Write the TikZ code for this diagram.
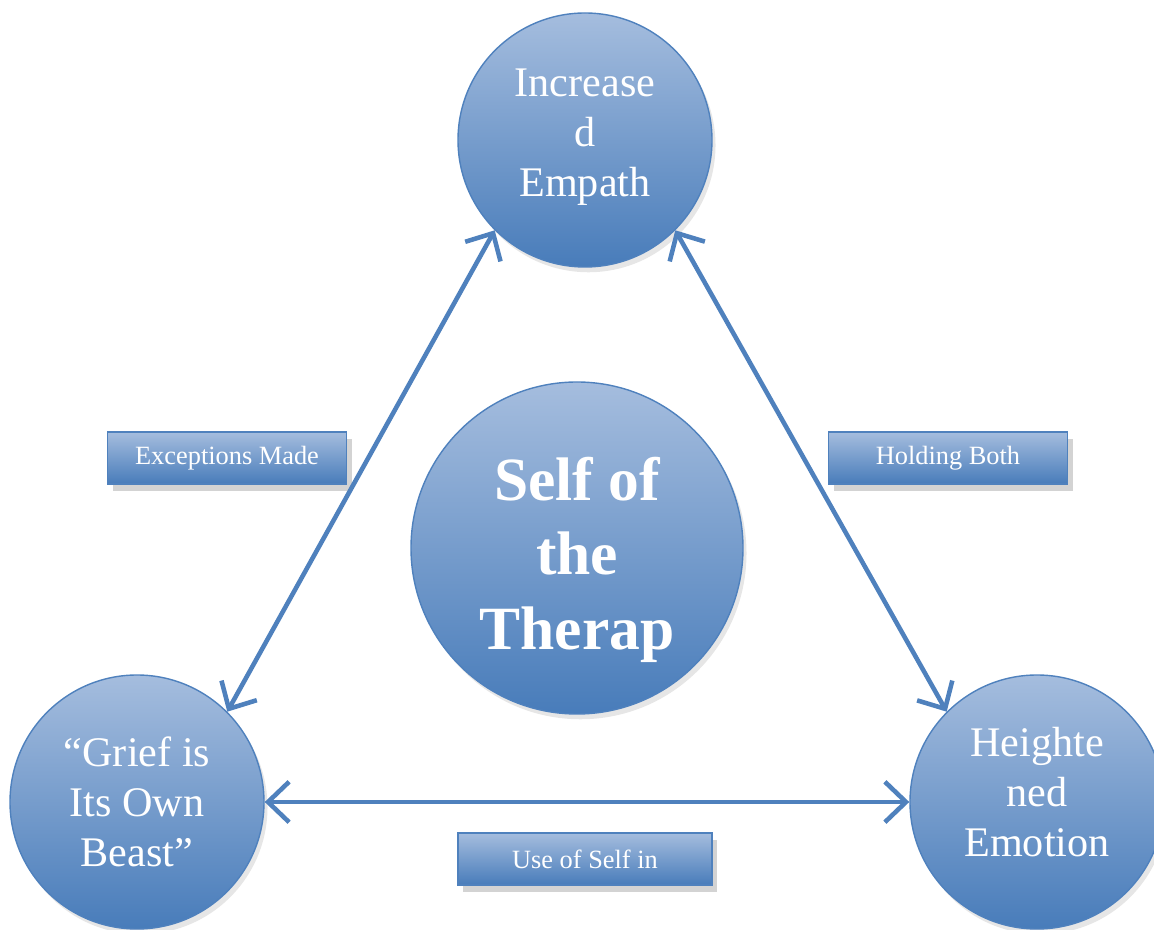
\documentclass[tikz,border=0pt]{standalone}
\usepackage{fontspec}
\setmainfont{Liberation Serif}
\usepackage{tikz}
\usetikzlibrary{arrows.meta,shadows}

\definecolor{ringblue}{RGB}{79,129,189}
\definecolor{toplight}{RGB}{165,189,222}
\definecolor{botdark}{RGB}{72,124,186}

\begin{document}
\begin{tikzpicture}[
  bubble/.style={circle, draw=ringblue, line width=0.8pt, top color=toplight, bottom color=botdark, text=white, align=center, minimum size=5.08cm, inner sep=0pt, font=\fontsize{24}{28.5}\selectfont, drop shadow={opacity=0.2, shadow xshift=2pt, shadow yshift=-3pt}},
  tag/.style={draw=ringblue, line width=0.8pt, top color=toplight, bottom color=botdark, text=white, minimum width=4.78cm, minimum height=1.04cm, inner sep=0pt, font=\fontsize{15}{18}\selectfont, drop shadow={opacity=0.35, shadow xshift=3pt, shadow yshift=-4pt}},
  flow/.style={{Straight Barb[length=12pt,width=23pt]}-{Straight Barb[length=12pt,width=23pt]}, line width=2.6pt, draw=ringblue},
]
\useasboundingbox (0,0) rectangle (23.08,-18.6);
\node[bubble] (emp) at (11.70,-2.80) {Increase\\d\\Empath\rule[-8pt]{0pt}{0pt}};
\node[bubble, minimum size=6.64cm, font=\bfseries\fontsize{35}{42.5}\selectfont] (self) at (11.54,-10.96) {\rule{0pt}{38pt}Self of\\the\\Therap};
\node[bubble] (grief) at (2.74,-16.04) {``Grief is\\Its Own\\Beast''};
\node[bubble] (emo) at (20.74,-16.04) {Heighte\\ned\\Emotion\rule[-12pt]{0pt}{0pt}};
\node[tag] (exc) at (4.54,-9.16) {Exceptions Made};
\node[tag] (hold) at (18.96,-9.16) {Holding Both};
\node[tag, minimum width=5.08cm] (use) at (11.70,-17.18) {Use of Self in};
\draw[flow] (emp.225) -- (grief.45);
\draw[flow] (emp.-45) -- (emo.135);
\draw[flow] (grief.east) -- (emo.west);
\end{tikzpicture}
\end{document}
